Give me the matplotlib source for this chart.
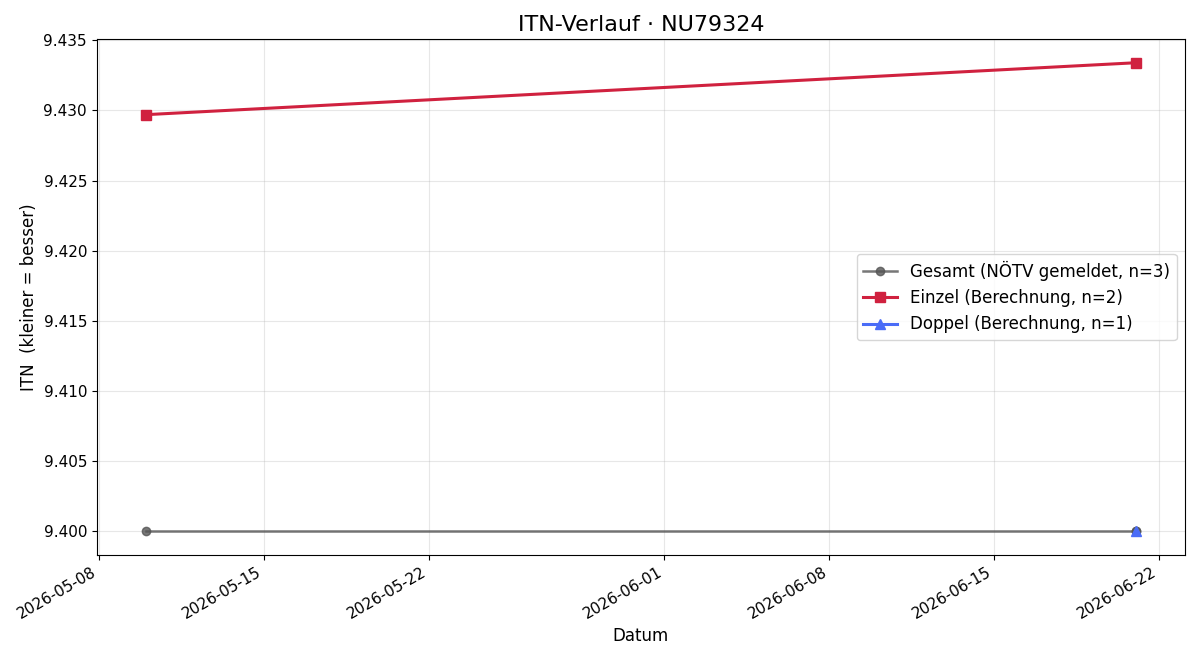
import matplotlib
matplotlib.use("Agg")
from matplotlib import pyplot as plt
from datetime import datetime

gesamt_dates = ["2026-05-10", "2026-06-21", "2026-06-21"]
gesamt_itn = [9.400, 9.400, 9.400]
einzel_dates = ["2026-05-10", "2026-06-21"]
einzel_itn = [9.4297, 9.4334]
doppel_dates = ["2026-06-21"]
doppel_itn = [9.400]

def to_dt(lst):
    return [datetime.strptime(d, "%Y-%m-%d") for d in lst]

fig, ax = plt.subplots(figsize=(12, 6.6), dpi=100)
ax.plot(to_dt(gesamt_dates), gesamt_itn, marker="o", markersize=6, linewidth=1.8,
        color="#555555", alpha=0.8, label=f"Gesamt (NÖTV gemeldet, n={len(gesamt_itn)})")
ax.plot(to_dt(einzel_dates), einzel_itn, marker="s", markersize=7, linewidth=2.2,
        color="#d0213f", label=f"Einzel (Berechnung, n={len(einzel_itn)})")
ax.plot(to_dt(doppel_dates), doppel_itn, marker="^", markersize=7, linewidth=2.2,
        color="#4a6cf7", label=f"Doppel (Berechnung, n={len(doppel_itn)})")

ax.set_title("ITN-Verlauf · NU79324", fontsize=16)
ax.set_xlabel("Datum", fontsize=12)
ax.set_ylabel("ITN  (kleiner = besser)", fontsize=12)
ax.tick_params(labelsize=11)
ax.grid(True, alpha=0.3)
ax.yaxis.set_major_formatter(matplotlib.ticker.FormatStrFormatter("%.3f"))
ax.legend(loc="center right", fontsize=12)
fig.autofmt_xdate()
plt.tight_layout()
plt.savefig("out.png")
